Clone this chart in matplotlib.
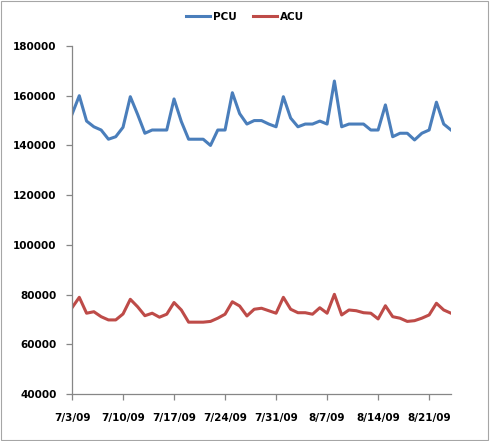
import matplotlib
matplotlib.use("Agg")
import matplotlib.pyplot as plt
import matplotlib.dates as mdates
import pandas as pd

# daily values 7/3/09 .. 8/24/09
start_date = "2009-07-03"
pcu = [152500, 160000, 149800, 147500, 146200, 142500, 143500, 147300, 159600, 152500,
       144900, 146200, 146200, 146200, 158700, 149600, 142500, 142500, 142500, 140000,
       146200, 146200, 161200, 152800, 148600, 150000, 150000, 148600, 147500, 159600,
       151000, 147500, 148600, 148600, 149800, 148600, 165900, 147500, 148600, 148600,
       148600, 146200, 146200, 156300, 143500, 144900, 144900, 142200, 144900, 146200,
       157400, 148600, 146200]
acu = [74700, 78900, 72500, 73100, 71100, 69800, 69800, 72200, 78100, 75100,
       71500, 72500, 70900, 72100, 76800, 73800, 68900, 68900, 68900, 69200,
       70500, 72100, 77100, 75400, 71400, 74100, 74500, 73500, 72500, 78900,
       74100, 72700, 72700, 72100, 74700, 72500, 80100, 71800, 73800, 73500,
       72700, 72500, 70200, 75500, 71100, 70500, 69200, 69500, 70500, 71800,
       76500, 73800, 72500]
tick_labels = ["7/3/09", "7/10/09", "7/17/09", "7/24/09", "7/31/09", "8/7/09", "8/14/09", "8/21/09"]
y_ticks = [40000, 60000, 80000, 100000, 120000, 140000, 160000, 180000]

dates = pd.date_range(start_date, periods=len(pcu), freq="D")
tick_dates = pd.date_range(start_date, periods=len(tick_labels), freq="7D")

plt.rcParams["font.family"] = "DejaVu Sans"
plt.rcParams["font.weight"] = "bold"
plt.rcParams["font.size"] = 7.5

fig = plt.figure(figsize=(4.9, 4.41), dpi=100)
ax = fig.add_axes([72 / 490, 1 - 394 / 441, (451 - 72) / 490, (394 - 46) / 441])

ax.plot(dates, pcu, color="#4a7ebb", lw=2.2, label="PCU")
ax.plot(dates, acu, color="#be4b48", lw=2.2, label="ACU")

ax.set_xlim(dates[0], dates[-1])
ax.set_ylim(40000, 180000)
ax.set_yticks(y_ticks)
ax.set_yticklabels([str(v) for v in y_ticks])
ax.set_xticks(tick_dates)
ax.set_xticklabels(tick_labels)

axis_grey = "#868686"
for side in ["top", "right"]:
    ax.spines[side].set_visible(False)
for side in ["left", "bottom"]:
    ax.spines[side].set_color(axis_grey)
    ax.spines[side].set_linewidth(0.9)
ax.tick_params(axis="y", direction="out", length=4, width=0.9, color=axis_grey, pad=7)
ax.tick_params(axis="x", direction="out", length=4, width=0.9, color=axis_grey, pad=10)

fig.legend(loc="upper center", bbox_to_anchor=(0.5, 0.995), ncol=2, frameon=False,
           handlelength=2.3, handletextpad=0.3, columnspacing=1.6)

# chart area border
fig.patches.append(plt.Rectangle((0.002, 0.003), 0.994, 0.994, transform=fig.transFigure,
                                 fill=False, edgecolor="#a6a6a6", lw=0.8))

fig.savefig("out.png", dpi=100)
